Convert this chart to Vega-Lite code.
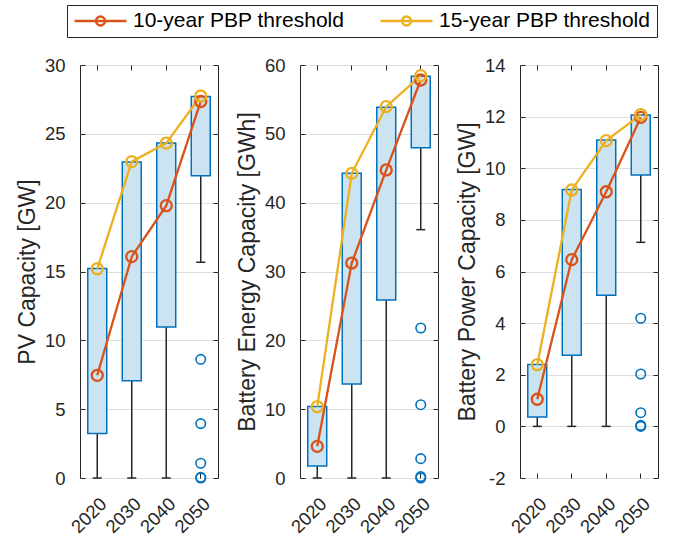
{
  "$schema": "https://vega.github.io/schema/vega-lite/v6.json",
  "background": "white",
  "padding": {"left": 15, "top": 4, "right": 5, "bottom": 5},
  "datasets": {
    "boxes": [
      {"panel": "pv", "year": "2020", "q1": 3.24, "q3": 15.22, "wlo": 0},
      {"panel": "pv", "year": "2030", "q1": 7.07, "q3": 22.95, "wlo": 0},
      {"panel": "pv", "year": "2040", "q1": 10.97, "q3": 24.33, "wlo": 0},
      {"panel": "pv", "year": "2050", "q1": 21.96, "q3": 27.72, "wlo": 15.67},
      {"panel": "be", "year": "2020", "q1": 1.74, "q3": 10.4, "wlo": 0},
      {"panel": "be", "year": "2030", "q1": 13.66, "q3": 44.26, "wlo": 0},
      {"panel": "be", "year": "2040", "q1": 25.86, "q3": 53.85, "wlo": 0},
      {"panel": "be", "year": "2050", "q1": 47.99, "q3": 58.35, "wlo": 36.08},
      {"panel": "bp", "year": "2020", "q1": 0.36, "q3": 2.4, "wlo": 0},
      {"panel": "bp", "year": "2030", "q1": 2.76, "q3": 9.18, "wlo": 0},
      {"panel": "bp", "year": "2040", "q1": 5.08, "q3": 11.09, "wlo": 0},
      {"panel": "bp", "year": "2050", "q1": 9.74, "q3": 12.06, "wlo": 7.13}
    ],
    "lines": [
      {"panel": "pv", "year": "2020", "series": "10-year PBP threshold", "value": 7.46},
      {"panel": "pv", "year": "2030", "series": "10-year PBP threshold", "value": 16.08},
      {"panel": "pv", "year": "2040", "series": "10-year PBP threshold", "value": 19.78},
      {"panel": "pv", "year": "2050", "series": "10-year PBP threshold", "value": 27.35},
      {"panel": "pv", "year": "2020", "series": "15-year PBP threshold", "value": 15.2},
      {"panel": "pv", "year": "2030", "series": "15-year PBP threshold", "value": 22.98},
      {"panel": "pv", "year": "2040", "series": "15-year PBP threshold", "value": 24.33},
      {"panel": "pv", "year": "2050", "series": "15-year PBP threshold", "value": 27.75},
      {"panel": "be", "year": "2020", "series": "10-year PBP threshold", "value": 4.6},
      {"panel": "be", "year": "2030", "series": "10-year PBP threshold", "value": 31.23},
      {"panel": "be", "year": "2040", "series": "10-year PBP threshold", "value": 44.75},
      {"panel": "be", "year": "2050", "series": "10-year PBP threshold", "value": 57.82},
      {"panel": "be", "year": "2020", "series": "15-year PBP threshold", "value": 10.36},
      {"panel": "be", "year": "2030", "series": "15-year PBP threshold", "value": 44.26},
      {"panel": "be", "year": "2040", "series": "15-year PBP threshold", "value": 53.95},
      {"panel": "be", "year": "2050", "series": "15-year PBP threshold", "value": 58.45},
      {"panel": "bp", "year": "2020", "series": "10-year PBP threshold", "value": 1.05},
      {"panel": "bp", "year": "2030", "series": "10-year PBP threshold", "value": 6.46},
      {"panel": "bp", "year": "2040", "series": "10-year PBP threshold", "value": 9.09},
      {"panel": "bp", "year": "2050", "series": "10-year PBP threshold", "value": 11.97},
      {"panel": "bp", "year": "2020", "series": "15-year PBP threshold", "value": 2.39},
      {"panel": "bp", "year": "2030", "series": "15-year PBP threshold", "value": 9.16},
      {"panel": "bp", "year": "2040", "series": "15-year PBP threshold", "value": 11.07},
      {"panel": "bp", "year": "2050", "series": "15-year PBP threshold", "value": 12.08}
    ],
    "outl": [
      {"panel": "pv", "year": "2050", "value": 8.62},
      {"panel": "pv", "year": "2050", "value": 3.95},
      {"panel": "pv", "year": "2050", "value": 1.07},
      {"panel": "pv", "year": "2050", "value": 0.05},
      {"panel": "pv", "year": "2050", "value": 0},
      {"panel": "be", "year": "2050", "value": 21.79},
      {"panel": "be", "year": "2050", "value": 10.65},
      {"panel": "be", "year": "2050", "value": 2.81},
      {"panel": "be", "year": "2050", "value": 0.2},
      {"panel": "be", "year": "2050", "value": 0},
      {"panel": "bp", "year": "2050", "value": 4.19},
      {"panel": "bp", "year": "2050", "value": 2.03},
      {"panel": "bp", "year": "2050", "value": 0.53},
      {"panel": "bp", "year": "2050", "value": 0.04},
      {"panel": "bp", "year": "2050", "value": 0}
    ]
  },
  "spacing": 82,
  "bounds": "flush",
  "resolve": {"scale": {"stroke": "shared"}, "legend": {"stroke": "shared"}},
  "hconcat": [
    {
      "width": 138, "height": 413,
      "layer": [
        {"data": {"name": "boxes"}, "transform": [{"filter": "datum.panel === 'pv'"}],
         "mark": {"type": "rule", "color": "#262626", "strokeWidth": 1.5},
         "encoding": {
           "x": {"field": "year", "type": "ordinal", "scale": {"paddingInner": 0, "paddingOuter": 0},
                 "axis": {"orient": "bottom", "title": null, "labelAngle": -45, "labelAlign": "right", "labelBaseline": "top", "labelPadding": 21, "grid": false}},
           "y": {"field": "wlo", "type": "quantitative", "scale": {"domain": [0, 30], "nice": false, "zero": false},
                 "axis": {"orient": "left", "title": "PV Capacity [GW]", "values": [0, 5, 10, 15, 20, 25, 30], "grid": true, "labelPadding": 20, "titlePadding": 5}},
           "y2": {"field": "q1"}}},
        {"data": {"name": "boxes"}, "transform": [{"filter": "datum.panel === 'pv'"}],
         "mark": {"type": "tick", "orient": "horizontal", "size": 9, "thickness": 1.5, "color": "#262626", "opacity": 1},
         "encoding": {"x": {"field": "year", "type": "ordinal", "axis": null}, "y": {"field": "wlo", "type": "quantitative", "axis": null}}},
        {"data": {"name": "boxes"}, "transform": [{"filter": "datum.panel === 'pv'"}],
         "mark": {"type": "bar", "width": {"band": 0.55}, "fill": "#cce3f2", "stroke": "#0072bd", "strokeWidth": 1.5},
         "encoding": {"x": {"field": "year", "type": "ordinal", "axis": null}, "y": {"field": "q1", "type": "quantitative", "axis": null}, "y2": {"field": "q3"}}},
        {"data": {"name": "outl"}, "transform": [{"filter": "datum.panel === 'pv'"}],
         "mark": {"type": "point", "shape": "circle", "filled": false, "stroke": "#0072bd", "strokeWidth": 1.6, "size": 90, "opacity": 1},
         "encoding": {"x": {"field": "year", "type": "ordinal", "axis": null}, "y": {"field": "value", "type": "quantitative", "axis": null}}},
        {"data": {"name": "lines"}, "transform": [{"filter": "datum.panel === 'pv'"}],
         "mark": {"type": "line", "strokeWidth": 2.3},
         "encoding": {"x": {"field": "year", "type": "ordinal", "axis": null}, "y": {"field": "value", "type": "quantitative", "axis": null},
           "stroke": {"field": "series", "type": "nominal",
             "scale": {"domain": ["10-year PBP threshold", "15-year PBP threshold"], "range": ["#d95319", "#edb120"]},
             "legend": {"title": null, "orient": "none", "legendX": -13, "legendY": -60, "direction": "horizontal",
               "strokeColor": "#262626", "fillColor": "white", "padding": 6,
               "symbolType": "M-1,0H1M0.173,0A0.173,0.173,0,1,1,-0.173,0A0.173,0.173,0,1,1,0.173,0",
               "symbolSize": 2704, "symbolStrokeWidth": 2.3, "symbolFillColor": "transparent", "clipHeight": 20,
               "labelFontSize": 21, "labelFont": "Liberation Sans", "labelColor": "black", "labelOffset": 5,
               "columnPadding": 34, "labelLimit": 400, "labelExpr": "datum.label + '      '"}}}},
        {"data": {"name": "lines"}, "transform": [{"filter": "datum.panel === 'pv'"}],
         "mark": {"type": "point", "shape": "circle", "filled": false, "strokeWidth": 2.3, "size": 121, "opacity": 1},
         "encoding": {"x": {"field": "year", "type": "ordinal", "axis": null}, "y": {"field": "value", "type": "quantitative", "axis": null},
           "stroke": {"field": "series", "type": "nominal"}}},
        {"data": {"name": "boxes"}, "transform": [{"filter": "datum.panel === 'pv'"}],
         "mark": {"type": "point", "opacity": 0},
         "encoding": {
           "x": {"field": "year", "type": "ordinal", "axis": {"orient": "top", "labels": false, "title": null, "grid": false}},
           "y": {"field": "q3", "type": "quantitative", "axis": {"orient": "right", "labels": false, "title": null, "grid": false, "values": [0, 5, 10, 15, 20, 25, 30]}}}}
      ],
      "resolve": {"axis": {"x": "independent", "y": "independent"}}
    },
    {
      "width": 138, "height": 413,
      "layer": [
        {"data": {"name": "boxes"}, "transform": [{"filter": "datum.panel === 'be'"}],
         "mark": {"type": "rule", "color": "#262626", "strokeWidth": 1.5},
         "encoding": {
           "x": {"field": "year", "type": "ordinal", "scale": {"paddingInner": 0, "paddingOuter": 0},
                 "axis": {"orient": "bottom", "title": null, "labelAngle": -45, "labelAlign": "right", "labelBaseline": "top", "labelPadding": 21, "grid": false}},
           "y": {"field": "wlo", "type": "quantitative", "scale": {"domain": [0, 60], "nice": false, "zero": false},
                 "axis": {"orient": "left", "title": "Battery Energy Capacity [GWh]", "values": [0, 10, 20, 30, 40, 50, 60], "grid": true, "labelPadding": 20, "titlePadding": 5}},
           "y2": {"field": "q1"}}},
        {"data": {"name": "boxes"}, "transform": [{"filter": "datum.panel === 'be'"}],
         "mark": {"type": "tick", "orient": "horizontal", "size": 9, "thickness": 1.5, "color": "#262626", "opacity": 1},
         "encoding": {"x": {"field": "year", "type": "ordinal", "axis": null}, "y": {"field": "wlo", "type": "quantitative", "axis": null}}},
        {"data": {"name": "boxes"}, "transform": [{"filter": "datum.panel === 'be'"}],
         "mark": {"type": "bar", "width": {"band": 0.55}, "fill": "#cce3f2", "stroke": "#0072bd", "strokeWidth": 1.5},
         "encoding": {"x": {"field": "year", "type": "ordinal", "axis": null}, "y": {"field": "q1", "type": "quantitative", "axis": null}, "y2": {"field": "q3"}}},
        {"data": {"name": "outl"}, "transform": [{"filter": "datum.panel === 'be'"}],
         "mark": {"type": "point", "shape": "circle", "filled": false, "stroke": "#0072bd", "strokeWidth": 1.6, "size": 90, "opacity": 1},
         "encoding": {"x": {"field": "year", "type": "ordinal", "axis": null}, "y": {"field": "value", "type": "quantitative", "axis": null}}},
        {"data": {"name": "lines"}, "transform": [{"filter": "datum.panel === 'be'"}],
         "mark": {"type": "line", "strokeWidth": 2.3},
         "encoding": {"x": {"field": "year", "type": "ordinal", "axis": null}, "y": {"field": "value", "type": "quantitative", "axis": null},
           "stroke": {"field": "series", "type": "nominal"}}},
        {"data": {"name": "lines"}, "transform": [{"filter": "datum.panel === 'be'"}],
         "mark": {"type": "point", "shape": "circle", "filled": false, "strokeWidth": 2.3, "size": 121, "opacity": 1},
         "encoding": {"x": {"field": "year", "type": "ordinal", "axis": null}, "y": {"field": "value", "type": "quantitative", "axis": null},
           "stroke": {"field": "series", "type": "nominal"}}},
        {"data": {"name": "boxes"}, "transform": [{"filter": "datum.panel === 'be'"}],
         "mark": {"type": "point", "opacity": 0},
         "encoding": {
           "x": {"field": "year", "type": "ordinal", "axis": {"orient": "top", "labels": false, "title": null, "grid": false}},
           "y": {"field": "q3", "type": "quantitative", "axis": {"orient": "right", "labels": false, "title": null, "grid": false, "values": [0, 10, 20, 30, 40, 50, 60]}}}}
      ],
      "resolve": {"axis": {"x": "independent", "y": "independent"}}
    },
    {
      "width": 138, "height": 413,
      "layer": [
        {"data": {"name": "boxes"}, "transform": [{"filter": "datum.panel === 'bp'"}],
         "mark": {"type": "rule", "color": "#262626", "strokeWidth": 1.5},
         "encoding": {
           "x": {"field": "year", "type": "ordinal", "scale": {"paddingInner": 0, "paddingOuter": 0},
                 "axis": {"orient": "bottom", "title": null, "labelAngle": -45, "labelAlign": "right", "labelBaseline": "top", "labelPadding": 21, "grid": false}},
           "y": {"field": "wlo", "type": "quantitative", "scale": {"domain": [-2, 14], "nice": false, "zero": false},
                 "axis": {"orient": "left", "title": "Battery Power Capacity [GW]", "values": [-2, 0, 2, 4, 6, 8, 10, 12, 14], "grid": true, "labelPadding": 20, "titlePadding": 5, "labelExpr": "replace(datum.label, '\u2212', '-')"}},
           "y2": {"field": "q1"}}},
        {"data": {"name": "boxes"}, "transform": [{"filter": "datum.panel === 'bp'"}],
         "mark": {"type": "tick", "orient": "horizontal", "size": 9, "thickness": 1.5, "color": "#262626", "opacity": 1},
         "encoding": {"x": {"field": "year", "type": "ordinal", "axis": null}, "y": {"field": "wlo", "type": "quantitative", "axis": null}}},
        {"data": {"name": "boxes"}, "transform": [{"filter": "datum.panel === 'bp'"}],
         "mark": {"type": "bar", "width": {"band": 0.55}, "fill": "#cce3f2", "stroke": "#0072bd", "strokeWidth": 1.5},
         "encoding": {"x": {"field": "year", "type": "ordinal", "axis": null}, "y": {"field": "q1", "type": "quantitative", "axis": null}, "y2": {"field": "q3"}}},
        {"data": {"name": "outl"}, "transform": [{"filter": "datum.panel === 'bp'"}],
         "mark": {"type": "point", "shape": "circle", "filled": false, "stroke": "#0072bd", "strokeWidth": 1.6, "size": 90, "opacity": 1},
         "encoding": {"x": {"field": "year", "type": "ordinal", "axis": null}, "y": {"field": "value", "type": "quantitative", "axis": null}}},
        {"data": {"name": "lines"}, "transform": [{"filter": "datum.panel === 'bp'"}],
         "mark": {"type": "line", "strokeWidth": 2.3},
         "encoding": {"x": {"field": "year", "type": "ordinal", "axis": null}, "y": {"field": "value", "type": "quantitative", "axis": null},
           "stroke": {"field": "series", "type": "nominal"}}},
        {"data": {"name": "lines"}, "transform": [{"filter": "datum.panel === 'bp'"}],
         "mark": {"type": "point", "shape": "circle", "filled": false, "strokeWidth": 2.3, "size": 121, "opacity": 1},
         "encoding": {"x": {"field": "year", "type": "ordinal", "axis": null}, "y": {"field": "value", "type": "quantitative", "axis": null},
           "stroke": {"field": "series", "type": "nominal"}}},
        {"data": {"name": "boxes"}, "transform": [{"filter": "datum.panel === 'bp'"}],
         "mark": {"type": "point", "opacity": 0},
         "encoding": {
           "x": {"field": "year", "type": "ordinal", "axis": {"orient": "top", "labels": false, "title": null, "grid": false}},
           "y": {"field": "q3", "type": "quantitative", "axis": {"orient": "right", "labels": false, "title": null, "grid": false, "values": [-2, 0, 2, 4, 6, 8, 10, 12, 14]}}}}
      ],
      "resolve": {"axis": {"x": "independent", "y": "independent"}}
    }
  ],
  "config": {
    "font": "Liberation Sans",
    "view": {"stroke": "#262626", "strokeWidth": 1},
    "axis": {
      "labelFont": "Liberation Sans", "labelFontSize": 18.5, "labelColor": "#262626",
      "titleFont": "Liberation Sans", "titleFontSize": 23, "titleFontWeight": "normal", "titleColor": "#262626",
      "tickColor": "#262626", "tickSize": -5, "tickWidth": 1, "domain": false,
      "gridColor": "#dedede", "gridWidth": 1
    }
  }
}
